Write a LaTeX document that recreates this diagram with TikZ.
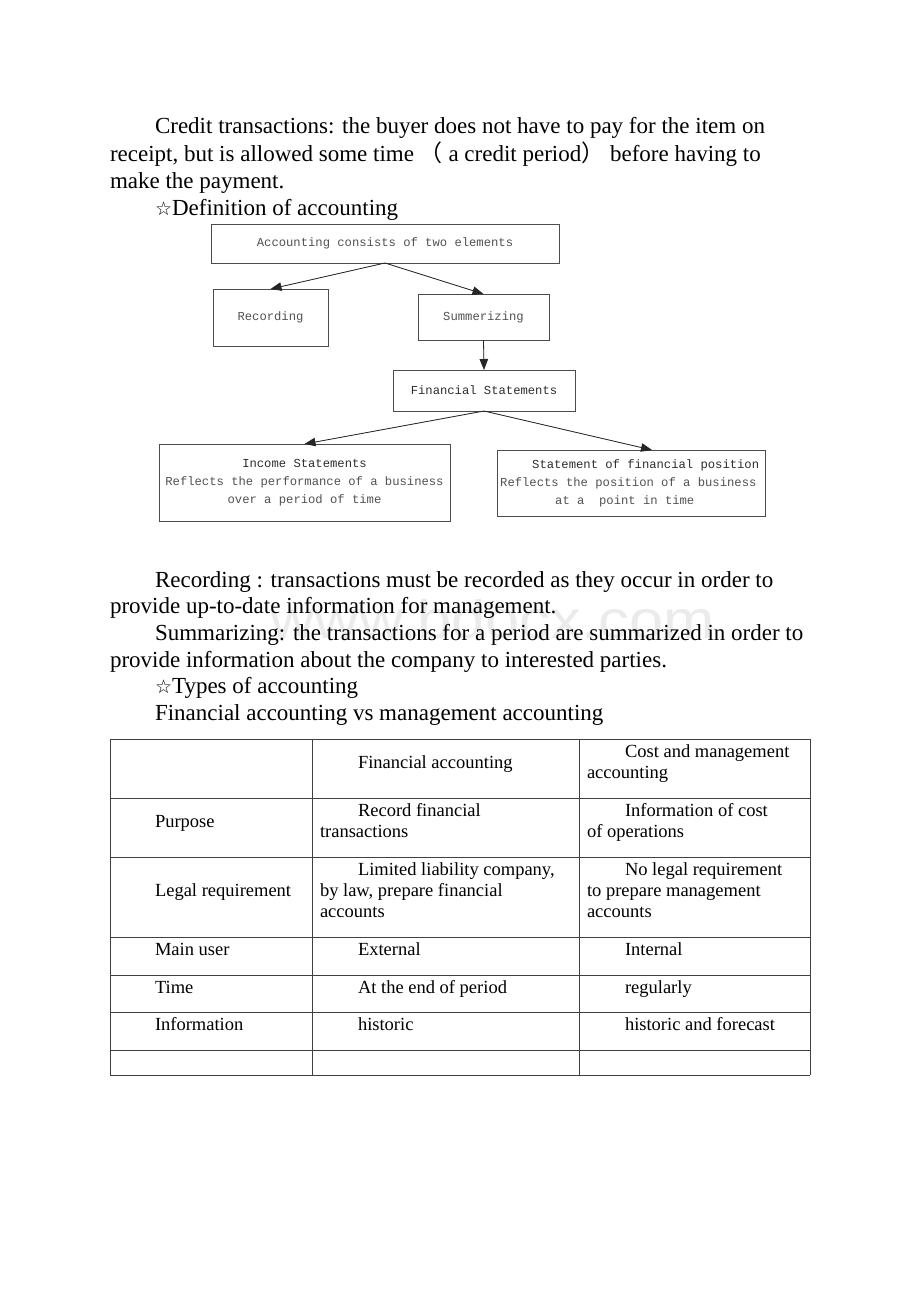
\documentclass[tikz,border=0pt]{standalone}
\usepackage{graphicx}
\usepackage{fontspec}
\setmainfont{Liberation Serif}
\newfontfamily\monof{Liberation Mono}
\newfontfamily\symf{DejaVu Sans}
\newfontfamily\cjk{Noto Sans CJK SC}
\newfontfamily\wmf{Liberation Sans}
\usetikzlibrary{arrows.meta}
\begin{document}
\begin{tikzpicture}[x=1pt,y=-1pt,
  body/.style={font=\fontsize{23}{27}\selectfont, anchor=base west, inner sep=0pt, outer sep=0pt},
  cell/.style={font=\fontsize{18.5}{21}\selectfont, anchor=base west, inner sep=0pt, outer sep=0pt},
  box/.style={draw=black!70, line width=0.9pt, inner sep=0pt, outer sep=0pt,
    font=\monof\fontsize{12.2}{18}\selectfont, text=black!68, align=center},
  boxline/.style={font=\monof\fontsize{12.2}{18}\selectfont, text=black!68, anchor=base west, inner sep=0pt},
  arr/.style={-{Triangle[length=11pt,width=8.5pt]}, line width=0.8pt, draw=black!85, fill=black},
  grid/.style={line width=0.8pt, draw=black!75}]
\useasboundingbox[fill=white] (0,0) rectangle (920,1302);

% watermark
\node[font=\wmf\fontsize{54}{54}\selectfont, text=black!8, anchor=base west, inner sep=0pt] (wm) at (270,638) {\scalebox{1.14}[1]{www.bdocx.com}};

% opening text
\node[body] (t1) at (155,133) {Credit transactions: the buyer does not have to pay for the item on};
\node[body] (t2) at (110,161) {receipt, but is allowed some time {\cjk （} a credit period{\cjk ）} before having to};
\node[body] (t3) at (110,188) {make the payment.};
\node[body] (t4) at (155,215) {{\symf\fontsize{19}{27}\selectfont ☆}Definition of accounting};

% diagram
\node[box, minimum width=348pt, minimum height=39pt] (top) at (385,243.5) {Accounting consists of two elements};
\node[box, minimum width=115pt, minimum height=57pt] (rec) at (270.5,317.5) {Recording};
\node[box, minimum width=131pt, minimum height=46pt] (sum) at (483.5,317) {Summerizing};
\node[box, minimum width=182pt, minimum height=41pt, text=black!82] (fs) at (484,390.5) {Financial Statements};
\node[box, minimum width=291pt, minimum height=77pt] (inc) at (304.5,482.5)
  {{\color{black!82}Income Statements}\\Reflects the performance of a business\\over a period of time};
\node[box, minimum width=268pt, minimum height=66pt] (sfp) at (631,483) {};
\node[boxline, text=black!82] (sfp1) at (532,468) {Statement of financial position};
\node[boxline] (sfp2) at (500,486) {Reflects the position of a business};
\node[boxline] (sfp3) at (555,504) {at a\ \ point in time};
\coordinate (sfpin) at (652,450);

\draw[arr] (top.south) -- (rec.north);
\draw[arr] (top.south) -- (sum.north);
\draw[arr] (sum.south) -- (fs.north);
\draw[arr] (fs.south) -- (inc.north);
\draw[arr] (fs.south) -- (sfpin);

% middle text
\node[body] (m1) at (155,587) {Recording : transactions must be recorded as they occur in order to};
\node[body] (m2) at (110,613.5) {provide up-to-date information for management.};
\node[body] (m3) at (155,640) {Summarizing: the transactions for a period are summarized in order to};
\node[body] (m4) at (110,667) {provide information about the company to interested parties.};
\node[body] (m5) at (155,693) {{\symf\fontsize{19}{27}\selectfont ☆}Types of accounting};
\node[body] (m6) at (155,720) {Financial accounting vs management accounting};

% table grid
\foreach \yy in {739,798,857,937,975,1012,1050,1075}
  \draw[grid] (110,\yy) -- (810,\yy);
\foreach \xx in {110,312,579,810}
  \draw[grid] (\xx,739) -- (\xx,1075);

% table cells
\node[cell] (h1) at (358,768) {Financial accounting};
\node[cell] (h2a) at (625,757) {Cost and management};
\node[cell] (h2b) at (587,778) {accounting};

\node[cell] (p0) at (155,827) {Purpose};
\node[cell] (p1a) at (358,816) {Record financial};
\node[cell] (p1b) at (320,837) {transactions};
\node[cell] (p2a) at (625,816) {Information of cost};
\node[cell] (p2b) at (587,837) {of operations};

\node[cell] (l0) at (155,896) {Legal requirement};
\node[cell] (l1a) at (358,875) {Limited liability company,};
\node[cell] (l1b) at (320,896) {by law, prepare financial};
\node[cell] (l1c) at (320,917) {accounts};
\node[cell] (l2a) at (625,875) {No legal requirement};
\node[cell] (l2b) at (587,896) {to prepare management};
\node[cell] (l2c) at (587,917) {accounts};

\node[cell] (u0) at (155,955) {Main user};
\node[cell] (u1) at (358,955) {External};
\node[cell] (u2) at (625,955) {Internal};

\node[cell] (ti0) at (155,993) {Time};
\node[cell] (ti1) at (358,993) {At the end of period};
\node[cell] (ti2) at (625,993) {regularly};

\node[cell] (in0) at (155,1030) {Information};
\node[cell] (in1) at (358,1030) {historic};
\node[cell] (in2) at (625,1030) {historic and forecast};
\end{tikzpicture}
\end{document}
